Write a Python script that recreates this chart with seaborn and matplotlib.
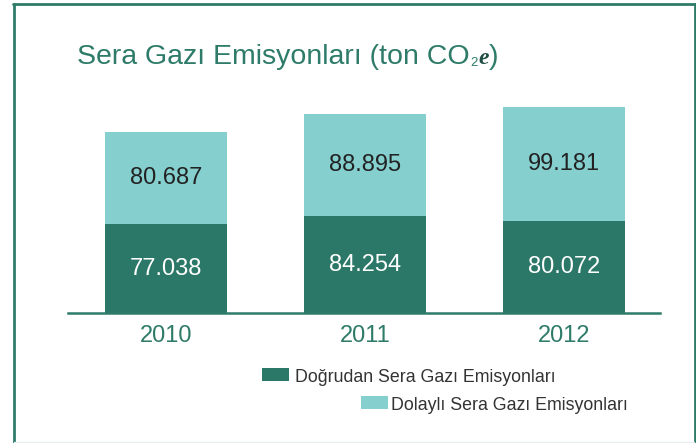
import numpy as np
import matplotlib.pyplot as plt
import seaborn as sns
from matplotlib.patches import Rectangle
from matplotlib.lines import Line2D

years = ["2010", "2011", "2012"]
direct = [77.038, 84.254, 80.072]
indirect = [80.687, 88.895, 99.181]
direct_labels = ["77.038", "84.254", "80.072"]
indirect_labels = ["80.687", "88.895", "99.181"]
series_names = ["Doğrudan Sera Gazı Emisyonları", "Dolaylı Sera Gazı Emisyonları"]

DARK = "#2c7868"
LIGHT = "#85cfcf"
GREEN_TXT = "#2e7b69"
FRAME = "#2e7b6a"

sns.set_style("white")
plt.rcParams["font.family"] = ["Liberation Sans", "DejaVu Sans"]

W, H = 696, 443
fig = plt.figure(figsize=(W / 100, H / 100), dpi=100)
ax = fig.add_axes([68 / W, 1 - 313 / H, 592 / W, 213 / H])

totals = [d + i for d, i in zip(direct, indirect)]
sns.barplot(x=years, y=totals, color=LIGHT, saturation=1, width=0.613,
            linewidth=0, ax=ax)
sns.barplot(x=years, y=direct, color=DARK, saturation=1, width=0.613,
            linewidth=0, ax=ax)

for i in range(len(years)):
    ax.text(i, direct[i] / 2, direct_labels[i], color="white", fontsize=17,
            ha="center", va="center")
    ax.text(i, direct[i] + indirect[i] / 2, indirect_labels[i], color="#222222",
            fontsize=17, ha="center", va="center")

ax.set_xlim(-0.4925, 2.482)
ax.set_ylim(0, 185.35)
ax.set_xlabel("")
ax.set_ylabel("")
ax.set_yticks([])
ax.tick_params(axis="x", length=0, labelsize=17, labelcolor=GREEN_TXT, pad=9)
for s in ["top", "left", "right"]:
    ax.spines[s].set_visible(False)
ax.spines["bottom"].set_color(FRAME)
ax.spines["bottom"].set_linewidth(1.8)
ax.set_facecolor("none")

# frame around the panel
def px_line(x0, y0, x1, y1, color=FRAME, lw=2.0):
    fig.add_artist(Line2D([x0 / W, x1 / W], [1 - y0 / H, 1 - y1 / H],
                          transform=fig.transFigure, color=color, lw=lw))

px_line(14, 4, 14, 443)
px_line(13, 4, 695, 4)
px_line(694.5, 4, 694.5, 443)
px_line(14, 441.5, 694, 441.5, color="#e6efed", lw=1.0)

# title in pieces
renderer = fig.canvas.get_renderer()
base_y = 1 - 63.5 / H
t1 = fig.text(77 / W, base_y, "Sera Gazı Emisyonları (ton CO", fontsize=20.5,
              color=GREEN_TXT, va="baseline")
x = t1.get_window_extent(renderer).x1
t2 = fig.text((x + 0.5) / W, base_y - 2 / H, "2", fontsize=9.5,
              color=GREEN_TXT, va="baseline")
x = t2.get_window_extent(renderer).x1
t3 = fig.text((x + 0.5) / W, base_y, "e", fontsize=17, color="#1f4d43",
              va="baseline", family=["Liberation Serif", "DejaVu Serif"],
              weight="bold", style="italic")
x = t3.get_window_extent(renderer).x1
fig.text((x + 0.5) / W, base_y, ")", fontsize=20.5, color=GREEN_TXT, va="baseline")

# legend
leg = [(262, 368, DARK, 295, 382), (361, 396, LIGHT, 391, 410)]
for (px, py, col, tx, ty), name in zip(leg, series_names):
    fig.add_artist(Rectangle((px / W, 1 - (py + 13) / H), 27 / W, 13 / H,
                             transform=fig.transFigure, color=col, lw=0))
    fig.text(tx / W, 1 - ty / H, name, fontsize=12.8, color="#333333", va="baseline")

fig.savefig("out.png", dpi=100)
